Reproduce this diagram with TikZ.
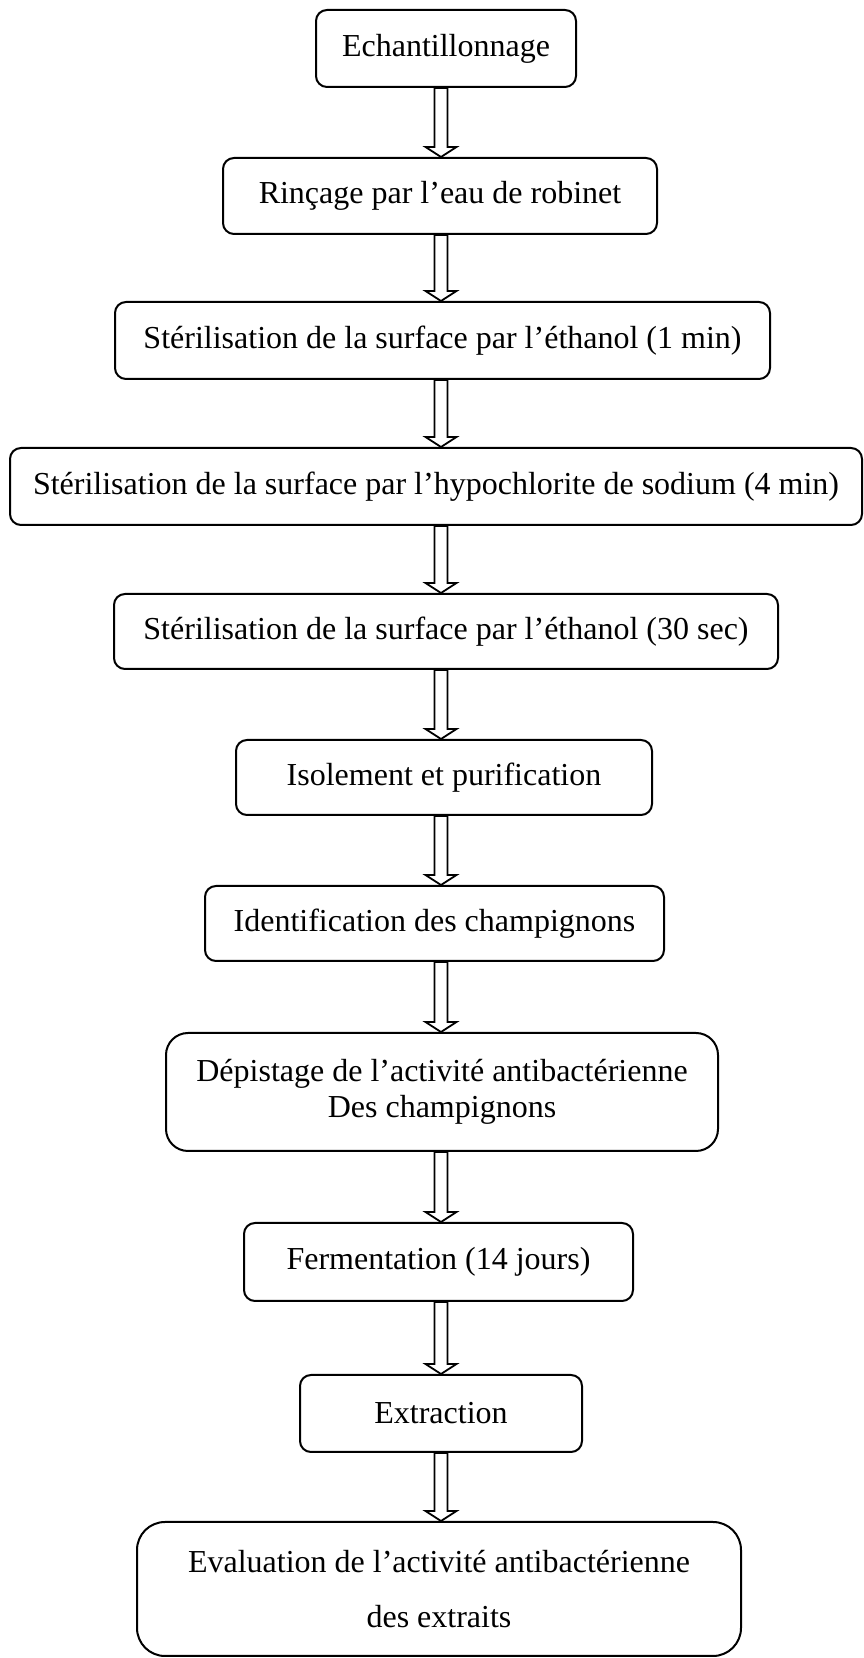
\documentclass[tikz,border=0pt]{standalone}
\usepackage{fontspec}
\setmainfont{Liberation Serif}
\usetikzlibrary{calc}

\tikzset{
  etape/.style={draw,line width=2pt,rounded corners=11pt,align=center,inner sep=0pt,
    font=\fontsize{32}{36}\selectfont},
  fleche/.style={draw,line width=1.8pt,line join=miter},
}
% fleche creuse verticale, du bas de #1 au haut de #2
\newcommand{\doublefleche}[2]{%
  \draw[fleche] ($(#1.south -| axe)+(-6.5,0)$) -- ($(#2.north -| axe)+(-6.5,10)$) -- ++(-9,0)
    -- (#2.north -| axe) -- ($(#2.north -| axe)+(15.5,10)$) -- ++(-9,0)
    -- ($(#1.south -| axe)+(6.5,0)$) -- cycle;}

\begin{document}
\begin{tikzpicture}[x=1pt,y=1pt]
    \useasboundingbox (0,0) rectangle (864,1658);
    \coordinate (axe) at (441,0);
    \node[etape,minimum width=260pt,minimum height=77pt] (echant) at (446,1609.5) {Echantillonnage};
    \node[etape,minimum width=434pt,minimum height=76pt] (rincage) at (440,1462) {Rinçage par l’eau de robinet};
    \node[etape,minimum width=655pt,minimum height=77pt] (ethanolA) at (442.5,1317.5) {Stérilisation de la surface par l’éthanol (1 min)};
    \node[etape,minimum width=852pt,minimum height=77pt] (hypo) at (436,1171.5) {Stérilisation de la surface par l’hypochlorite de sodium (4 min)};
    \node[etape,minimum width=664pt,minimum height=75pt] (ethanolB) at (446,1026.5) {Stérilisation de la surface par l’éthanol (30 sec)};
    \node[etape,minimum width=416pt,minimum height=75pt] (isolement) at (444,880.5) {Isolement et purification};
    \node[etape,minimum width=459pt,minimum height=75pt] (identif) at (434.5,734.5) {Identification des champignons};
    \node[etape,rounded corners=22pt,minimum width=552pt,minimum height=118pt] (depistage) at (442,566) {Dépistage de l’activité antibactérienne\\Des champignons};
    \node[etape,minimum width=389pt,minimum height=78pt] (ferment) at (438.5,396) {Fermentation (14 jours)};
    \node[etape,minimum width=282pt,minimum height=77pt] (extraction) at (441,244.5) {Extraction};
    \node[etape,rounded corners=28pt,minimum width=604pt,minimum height=134pt,
      font=\fontsize{32}{55}\selectfont] (evaluation) at (439,69) {Evaluation de l’activité antibactérienne\\des extraits};
    \foreach \a/\b in {echant/rincage,rincage/ethanolA,ethanolA/hypo,hypo/ethanolB,ethanolB/isolement,
      isolement/identif,identif/depistage,depistage/ferment,ferment/extraction,extraction/evaluation}
      \doublefleche{\a}{\b};
\end{tikzpicture}
\end{document}
